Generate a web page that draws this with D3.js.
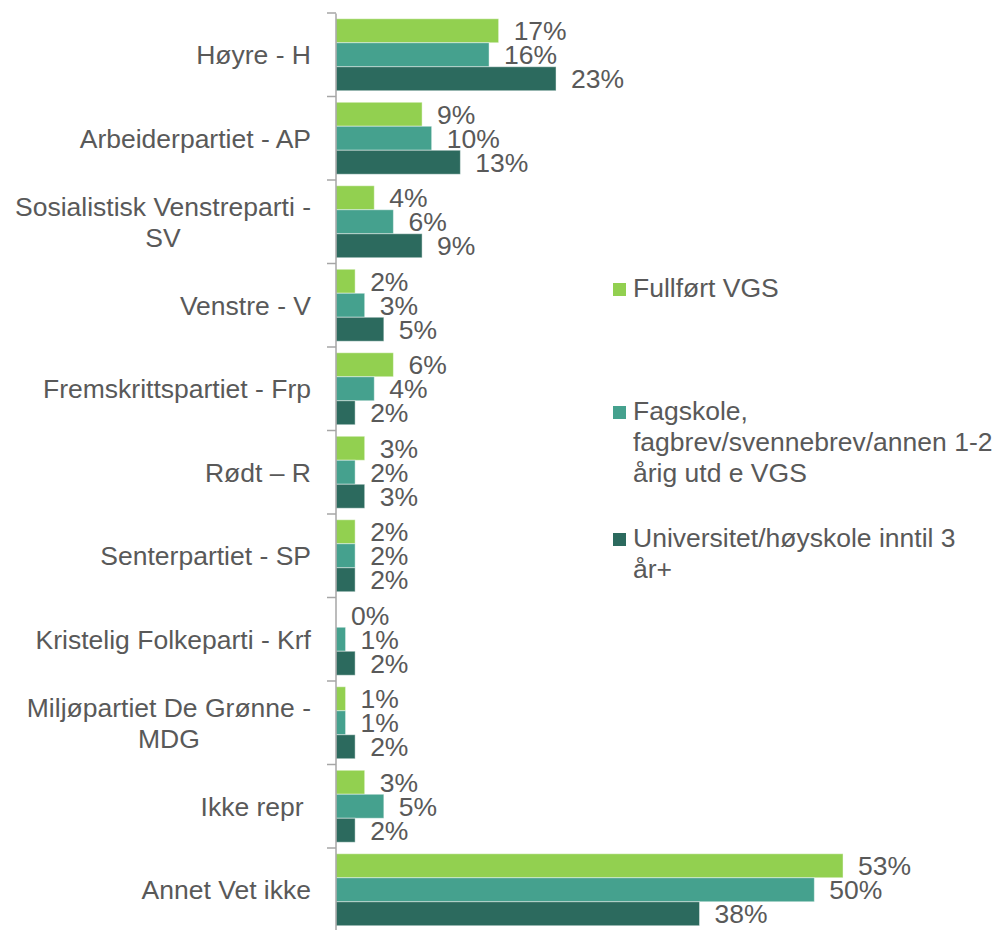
<!DOCTYPE html>
<html>
<head>
<meta charset="utf-8">
<script src="https://cdn.jsdelivr.net/npm/d3@7"></script>
<style>
	body { margin: 0; background: #fff; }
	svg { display: block; font-family: 'Liberation Sans', Arial, sans-serif; }
</style>
</head>
<body>
<div id="app"></div>
<script>
// categories (label lines) and values per series, in percent
const categories = [
	['Høyre - H'],
	['Arbeiderpartiet - AP'],
	['Sosialistisk Venstreparti -', 'SV'],
	['Venstre - V'],
	['Fremskrittspartiet - Frp'],
	['Rødt – R'],
	['Senterpartiet - SP'],
	['Kristelig Folkeparti - Krf'],
	['Miljøpartiet De Grønne -', 'MDG'],
	['Ikke repr\u00a0'],
	['Annet Vet ikke'],
]
const fullfortVgs = [17, 9, 4, 2, 6, 3, 2, 0, 1, 3, 53]
const fagskole = [16, 10, 6, 3, 4, 2, 2, 1, 1, 5, 50]
const universitet = [23, 13, 9, 5, 2, 3, 2, 2, 2, 2, 38]

const seriesNames = [
	['Fullført VGS'],
	['Fagskole,', 'fagbrev/svennebrev/annen 1-2', 'årig utd e VGS'],
	['Universitet/høyskole inntil 3', 'år+'],
]
const seriesValues = [fullfortVgs, fagskole, universitet]
const colors = ['#92D050', '#45A18E', '#2C6A5E']

const width = 998
const height = 930
const textColor = '#595959'
const fontSize = 26.5

const svg = d3.select('#app')
	.append('svg')
	.attr('width', width)
	.attr('height', height)

// scales
const keys = categories.map((d, i) => i)
const y = d3.scaleBand().domain(keys).range([13, 931.5]).paddingInner(0)
const sub = d3.scaleBand().domain([0, 1, 2]).range([0, y.bandwidth()]).paddingOuter(0.24)
const x = d3.scaleLinear().domain([0, 60]).range([336, 910])

// bars
const groups = svg.selectAll('g.cat')
	.data(keys)
	.enter()
	.append('g')
	.attr('class', 'cat')
	.attr('transform', (d) => `translate(0, ${y(d)})`)

groups.selectAll('rect')
	.data((d) => seriesValues.map((vals, s) => ({ s, v: vals[d] })))
	.enter()
	.append('rect')
	.attr('x', x(0))
	.attr('y', (d) => sub(d.s))
	.attr('width', (d) => x(d.v) - x(0))
	.attr('height', sub.bandwidth())
	.attr('fill', (d) => colors[d.s])
	.attr('stroke', '#ffffff')
	.attr('stroke-opacity', (d) => (d.v > 0 ? 0.45 : 0))
	.attr('stroke-width', 1)

// value labels
groups.selectAll('text.val')
	.data((d) => seriesValues.map((vals, s) => ({ s, v: vals[d] })))
	.enter()
	.append('text')
	.attr('class', 'val')
	.attr('x', (d) => x(d.v) + 15)
	.attr('y', (d) => sub(d.s) + sub.bandwidth() / 2 + 9.5)
	.attr('fill', textColor)
	.style('font-size', fontSize + 'px')
	.text((d) => d.v + '%')

// category axis: line plus ticks at band boundaries
svg.append('g')
	.attr('transform', `translate(${x(0) - 0.5}, 0)`)
	.call(d3.axisLeft(y).tickSize(0).tickFormat(''))
	.call((g) => g.select('.domain').attr('stroke', '#A6A6A6').attr('stroke-width', 1.5))

const boundaries = keys.map((d) => y(d)).concat([y.range()[1]])
svg.selectAll('line.tick')
	.data(boundaries)
	.enter()
	.append('line')
	.attr('class', 'tick')
	.attr('x1', x(0) - 9)
	.attr('x2', x(0))
	.attr('y1', (d) => d)
	.attr('y2', (d) => d)
	.attr('stroke', '#A6A6A6')
	.attr('stroke-width', 1.5)

// category labels (multi-line ones are centred as a block, block right aligned)
const lineH = 31
const labelRight = 311
categories.forEach((lines, i) => {
	const cy = y(i) + y.bandwidth() / 2
	const t = svg.append('text')
		.attr('fill', textColor)
		.style('font-size', fontSize + 'px')
		.attr('text-anchor', lines.length > 1 ? 'middle' : 'end')
	const tmp = []
	lines.forEach((line, j) => {
		tmp.push(t.append('tspan')
			.attr('y', cy + 9.5 + (j - (lines.length - 1) / 2) * lineH)
			.text(line))
	})
	if (lines.length > 1) {
		const w = d3.max(tmp, (s) => s.node().getComputedTextLength())
		tmp.forEach((s) => s.attr('x', labelRight - w / 2))
	} else {
		tmp.forEach((s) => s.attr('x', labelRight))
	}
})

// legend
const legendTop = [297, 420, 547]
const legend = svg.selectAll('g.legend')
	.data(seriesNames)
	.enter()
	.append('g')
	.attr('class', 'legend')
	.attr('transform', (d, i) => `translate(613, ${legendTop[i]})`)

legend.append('rect')
	.attr('x', 0)
	.attr('y', -14)
	.attr('width', 13)
	.attr('height', 13)
	.attr('fill', (d, i) => colors[i])

legend.append('text')
	.attr('fill', textColor)
	.style('font-size', fontSize + 'px')
	.selectAll('tspan')
	.data((d) => d)
	.enter()
	.append('tspan')
	.attr('x', 20)
	.attr('y', (d, j) => j * lineH)
	.text((d) => d)
</script>
</body>
</html>
